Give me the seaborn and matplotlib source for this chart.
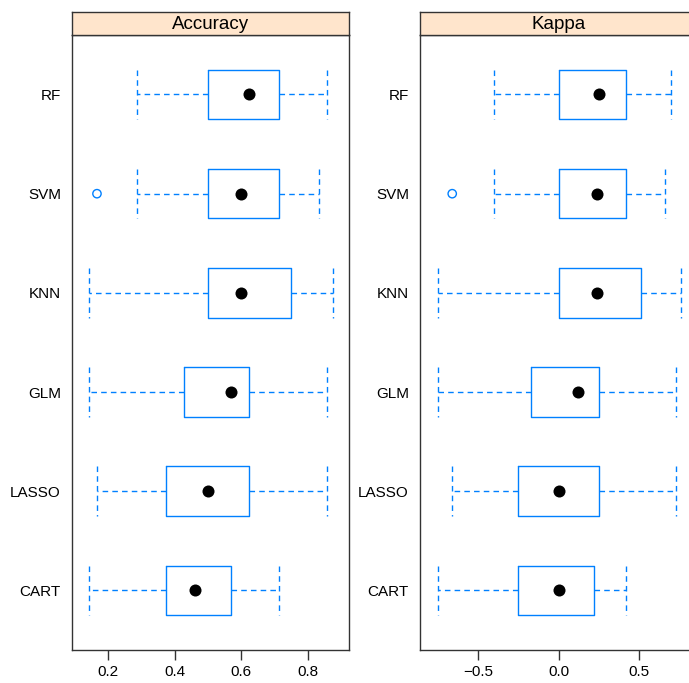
import numpy as np
import pandas as pd
import matplotlib
matplotlib.use("Agg")
import matplotlib.pyplot as plt
import seaborn as sns

modelos = ["RF", "SVM", "KNN", "GLM", "LASSO", "CART"]

# cinco números por modelo: min, q1, mediana, q3, max
acc_min = [0.286, 0.286, 0.143, 0.143, 0.167, 0.143]
acc_q1 = [0.500, 0.500, 0.500, 0.429, 0.375, 0.375]
acc_med = [0.625, 0.600, 0.600, 0.571, 0.500, 0.462]
acc_q3 = [0.714, 0.714, 0.750, 0.625, 0.625, 0.571]
acc_max = [0.857, 0.833, 0.875, 0.857, 0.857, 0.714]
acc_out_modelo = ["SVM"]
acc_out_valor = [0.167]

kap_min = [-0.40, -0.40, -0.75, -0.75, -0.66, -0.75]
kap_q1 = [0.00, 0.00, 0.00, -0.17, -0.25, -0.25]
kap_med = [0.25, 0.24, 0.24, 0.12, 0.00, 0.00]
kap_q3 = [0.42, 0.42, 0.51, 0.25, 0.25, 0.22]
kap_max = [0.70, 0.66, 0.76, 0.73, 0.73, 0.42]
kap_out_modelo = ["SVM"]
kap_out_valor = [-0.66]

azul = "#0080ff"
sns.set_style("white")
plt.rcParams["font.family"] = ["Liberation Sans", "DejaVu Sans"]
plt.rcParams["text.color"] = "black"
plt.rcParams["xtick.color"] = "black"
plt.rcParams["ytick.color"] = "black"

fig = plt.figure(figsize=(6.89, 6.83), dpi=100)

paneles = [
    ("Accuracy", [0.1045, 0.0483, 0.402, 0.9005], (0.092, 0.924), [0.2, 0.4, 0.6, 0.8],
     acc_min, acc_q1, acc_med, acc_q3, acc_max, acc_out_modelo, acc_out_valor),
    ("Kappa", [0.6096, 0.0483, 0.402, 0.9005], (-0.86, 0.86), [-0.5, 0.0, 0.5],
     kap_min, kap_q1, kap_med, kap_q3, kap_max, kap_out_modelo, kap_out_valor),
]

for titulo, pos, xlim, ticks, mn, q1, med, q3, mx, om, ov in paneles:
    ax = fig.add_axes(pos)
    filas = []
    for i, m in enumerate(modelos):
        for v in [mn[i], q1[i], med[i], q3[i], mx[i]]:
            filas.append({"modelo": m, "valor": v})
    df = pd.DataFrame(filas)
    sns.boxplot(data=df, x="valor", y="modelo", order=modelos, ax=ax,
                whis=(0, 100), width=0.5, fill=False, showfliers=False,
                color=azul, saturation=1, linewidth=1.0, capwidths=0.5,
                whiskerprops={"linestyle": (0, (4, 3))},
                capprops={"linestyle": (0, (4, 3))},
                medianprops={"visible": False})
    df_med = pd.DataFrame({"modelo": modelos, "valor": med})
    sns.scatterplot(data=df_med, x="valor", y="modelo", ax=ax, color="black",
                    s=75, edgecolor="black", linewidth=0, zorder=5)
    df_out = pd.DataFrame({"modelo": om, "valor": ov})
    ax.scatter(df_out["valor"], [modelos.index(m) for m in om], s=36,
               facecolors="none", edgecolors=azul, linewidths=1.0, zorder=5)
    ax.set_xlim(*xlim)
    ax.set_ylim(5.6, -0.6)
    ax.set_xticks(ticks)
    ax.set_xticklabels([("%.1f" % t).replace("-", "\u2212") for t in ticks])
    ax.set_xlabel("")
    ax.set_ylabel("")
    ax.tick_params(axis="x", direction="out", length=7, width=1, color="#333333",
                   labelsize=11, pad=4, bottom=True)
    ax.tick_params(axis="y", length=0, labelsize=11, pad=8)
    for s in ax.spines.values():
        s.set_color("#333333")
        s.set_linewidth(1.0)
    # franja del título
    strip = fig.add_axes([pos[0], pos[1] + pos[3], pos[2], 23 / 683])
    strip.set_facecolor("#ffe5cc")
    strip.set_xticks([])
    strip.set_yticks([])
    for s in strip.spines.values():
        s.set_color("#333333")
        s.set_linewidth(1.0)
    strip.text(0.5, 0.45, titulo, ha="center", va="center", fontsize=13.5,
               transform=strip.transAxes)

fig.savefig("out.png", dpi=100)
